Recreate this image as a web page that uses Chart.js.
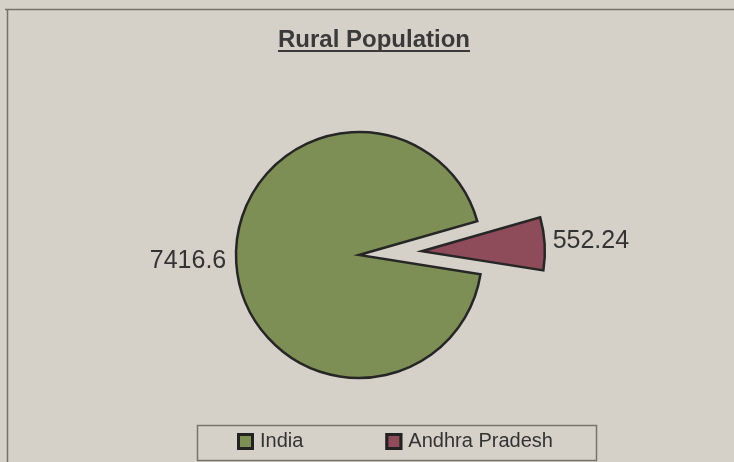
<!DOCTYPE html>
<html>
<head>
<meta charset="utf-8">
<title>Rural Population</title>
<script src="https://cdn.jsdelivr.net/npm/chart.js@4.4.1/dist/chart.umd.min.js"></script>
<style>
  html, body { margin: 0; padding: 0; background: #d6d1c8; }
  #wrap { position: relative; width: 734px; height: 462px; }
</style>
</head>
<body>
<div id="wrap"><canvas id="ruralChart"></canvas></div>
<script>
const chartTitle = 'Rural Population';
const categories = ['India', 'Andhra Pradesh'];
const ruralPopulation = [7416.6, 552.24];
const sliceColors = ['#7d8f54', '#8e4c5a'];
const explodeBy = [0, 63]; // px the slice is pulled out of the pie

const FONT = '"Liberation Sans", Arial, sans-serif';
const INK = '#333';

// pull exploded slices out as a clean translation (chart.js offset also grows the radius)
const explodePlugin = {
  id: 'explode',
  afterDatasetUpdate(chart, args) {
    args.meta.data.forEach((arc, i) => {
      if (arc._exploded) return;
      const draw = arc.draw;
      arc.draw = function (ctx) {
        const d = explodeBy[i] || 0;
        const mid = (this.startAngle + this.endAngle) / 2;
        ctx.save();
        ctx.translate(Math.cos(mid) * d, Math.sin(mid) * d);
        draw.call(this, ctx);
        ctx.restore();
      };
      arc._exploded = true;
    });
  }
};

// frame + underlined title
const framePlugin = {
  id: 'frame',
  beforeDraw(chart) {
    const ctx = chart.ctx;
    ctx.save();
    ctx.strokeStyle = '#75716a';
    ctx.lineWidth = 1.5;
    ctx.beginPath();
    ctx.moveTo(5, 9.5); ctx.lineTo(734, 9.5);
    ctx.moveTo(7.5, 9); ctx.lineTo(7.5, 462);
    ctx.stroke();

    ctx.font = 'bold 24px ' + FONT;
    ctx.fillStyle = '#3a3a3a';
    ctx.textAlign = 'center';
    ctx.textBaseline = 'alphabetic';
    ctx.fillText(chartTitle, 374, 47);
    const w = ctx.measureText(chartTitle).width;
    ctx.fillRect(374 - w / 2, 50, w, 2);
    ctx.restore();
  }
};

// value labels just outside each slice
const valueLabelPlugin = {
  id: 'valueLabels',
  afterDatasetsDraw(chart) {
    const ctx = chart.ctx;
    const meta = chart.getDatasetMeta(0);
    ctx.save();
    ctx.font = '25px ' + FONT;
    ctx.fillStyle = INK;
    ctx.textBaseline = 'middle';
    meta.data.forEach((arc, i) => {
      const mid = (arc.startAngle + arc.endAngle) / 2;
      const r = arc.outerRadius + (explodeBy[i] || 0) + 8;
      const cx = arc.x + Math.cos(mid) * r;
      const cy = arc.y + Math.sin(mid) * r;
      ctx.textAlign = Math.cos(mid) < 0 ? 'right' : 'left';
      ctx.fillText(String(ruralPopulation[i]), cx + (Math.cos(mid) < 0 ? -2 : 0), cy - 2);
    });
    ctx.restore();
  }
};

// boxed legend like the original
const boxLegendPlugin = {
  id: 'boxLegend',
  afterDraw(chart) {
    const ctx = chart.ctx;
    ctx.save();
    ctx.strokeStyle = '#77736c';
    ctx.lineWidth = 1.5;
    ctx.strokeRect(197.5, 425.5, 399, 35);

    ctx.font = '20px ' + FONT;
    ctx.textAlign = 'left';
    ctx.textBaseline = 'middle';
    let x = 237;
    const y = 441;
    categories.forEach((name, i) => {
      ctx.fillStyle = sliceColors[i];
      ctx.fillRect(x, y - 8, 17, 17);
      ctx.strokeStyle = '#222';
      ctx.lineWidth = 3;
      ctx.strokeRect(x + 1.5, y - 6.5, 14, 14);
      ctx.fillStyle = INK;
      ctx.fillText(name, x + 23, y);
      x += 23 + ctx.measureText(name).width + 82;
    });
    ctx.restore();
  }
};

new Chart(document.getElementById('ruralChart'), {
  type: 'pie',
  data: {
    labels: categories,
    datasets: [{
      data: ruralPopulation,
      backgroundColor: sliceColors,
      borderColor: '#262626',
      borderWidth: 2.5,
      borderJoinStyle: 'miter'
    }]
  },
  options: {
    responsive: true,
    maintainAspectRatio: false,
    animation: false,
    events: [],
    rotation: 99,
    radius: 123,
    layout: { padding: { left: 0, right: 16, top: 48, bottom: 0 } },
    plugins: {
      legend: { display: false },
      title: { display: false },
      tooltip: { enabled: false }
    }
  },
  plugins: [explodePlugin, framePlugin, valueLabelPlugin, boxLegendPlugin]
});
</script>
</body>
</html>
